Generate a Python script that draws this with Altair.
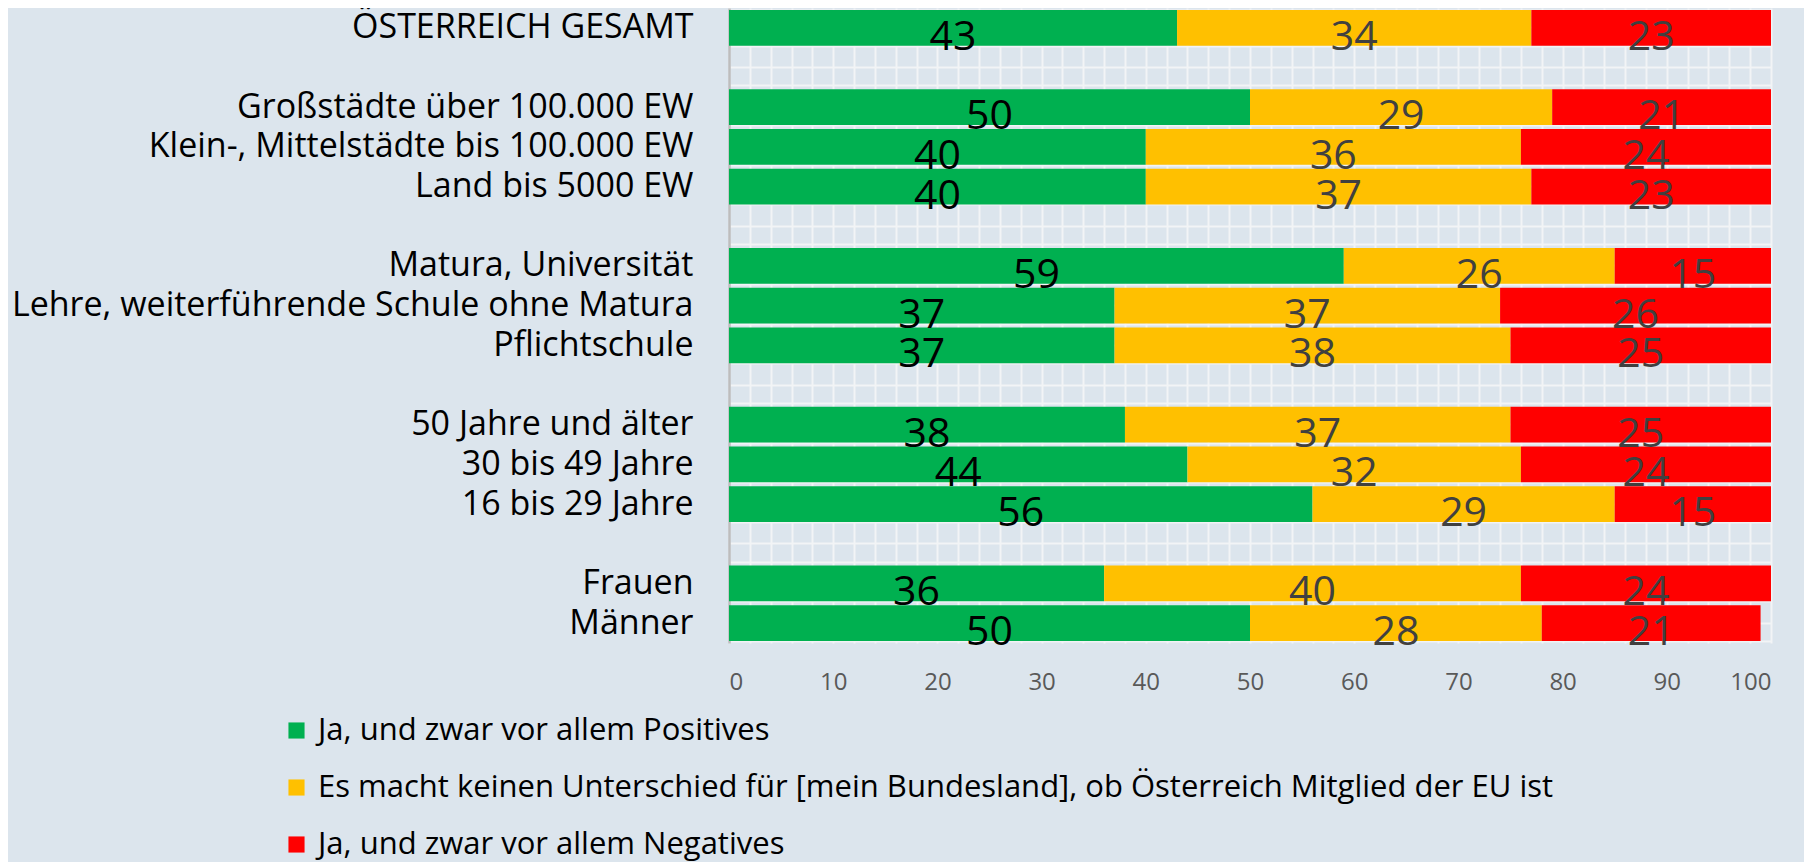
import altair as alt
import pandas as pd

categories = ["ÖSTERREICH GESAMT",
              "Großstädte über 100.000 EW",
              "Klein-, Mittelstädte bis 100.000 EW",
              "Land bis 5000 EW",
              "Matura, Universität",
              "Lehre, weiterführende Schule ohne Matura",
              "Pflichtschule",
              "50 Jahre und älter",
              "30 bis 49 Jahre",
              "16 bis 29 Jahre",
              "Frauen",
              "Männer"]
positive = [43, 50, 40, 40, 59, 37, 37, 38, 44, 56, 36, 50]
neutral = [34, 29, 36, 37, 26, 37, 38, 37, 32, 29, 40, 28]
negative = [23, 21, 24, 23, 15, 26, 25, 25, 24, 15, 24, 21]
series = ["Ja, und zwar vor allem Positives",
          "Es macht keinen Unterschied für [mein Bundesland], ob Österreich Mitglied der EU ist",
          "Ja, und zwar vor allem Negatives"]
colors = ["#00b050", "#ffc000", "#ff0000"]

# row order including empty spacer rows
row_order = [categories[0], " ",
             categories[1], categories[2], categories[3], "  ",
             categories[4], categories[5], categories[6], "   ",
             categories[7], categories[8], categories[9], "    ",
             categories[10], categories[11]]

rows = []
for i, c in enumerate(categories):
    for k, vals in enumerate([positive, neutral, negative]):
        rows.append({"cat": c, "series": series[k], "order": k, "value": vals[i]})
df = pd.DataFrame(rows)

FONT = "Open Sans"
GRID = "#f2f4f6"

yscale = alt.Scale(domain=row_order, paddingInner=0.1, paddingOuter=0.05)
xscale = alt.Scale(domain=[0, 100], nice=False)
xaxis = alt.Axis(values=list(range(0, 101, 2)),
                 labelExpr="datum.value % 10 == 0 ? datum.label : ''",
                 labelOverlap=False,
                 labelFont=FONT, labelFontSize=24, labelColor="#595959",
                 labelPadding=27, ticks=False, domain=False,
                 grid=True, gridColor=GRID, gridWidth=2)

base = alt.Chart(df)

midgrid = base.mark_bar(opacity=0).encode(
    y=alt.Y("cat:N", scale=yscale, sort=row_order, title=None,
            axis=alt.Axis(orient="right", labels=False, ticks=False, domain=False,
                          grid=True, gridColor=GRID, gridWidth=2)),
    x=alt.X("value:Q", stack="zero", scale=xscale, title=None, axis=xaxis),
)

bars = base.mark_bar().encode(
    y=alt.Y("cat:N", scale=yscale, sort=row_order, title=None,
            axis=alt.Axis(labelFont=FONT, labelFontSize=34, labelColor="#000000",
                          labelPadding=36, labelLimit=800, ticks=False,
                          domain=True, domainColor="#bdbdbd", domainWidth=2.5,
                          grid=True, gridColor=GRID, gridWidth=2,
                          tickBand="extent")),
    x=alt.X("value:Q", stack="zero", scale=xscale, title=None, axis=xaxis),
    color=alt.Color("series:N", scale=alt.Scale(domain=series, range=colors),
                    legend=alt.Legend(title=None, orient="none", legendX=-448, legendY=707,
                                      direction="vertical", symbolType="square",
                                      symbolSize=260, symbolStrokeWidth=0,
                                      labelFont=FONT, labelFontSize=31, labelColor="#000000",
                                      labelLimit=1300, rowPadding=25, symbolOffset=0,
                                      labelOffset=6)),
    order=alt.Order("order:Q")
)

labels = base.transform_stack(
    stack="value", groupby=["cat"], sort=[alt.SortField("order")], as_=["x0", "x1"]
).transform_calculate(
    mid="(datum.x0 + datum.x1) / 2"
).mark_text(font=FONT, fontSize=41, baseline="middle", align="center", dy=10).encode(
    y=alt.Y("cat:N", scale=yscale, sort=row_order, axis=None),
    x=alt.X("mid:Q", scale=xscale, title=None, axis=xaxis),
    text=alt.Text("value:Q"),
    color=alt.condition("datum.order == 0", alt.value("#000000"), alt.value("#404040"))
)

chart = alt.layer(midgrid, bars, labels).resolve_axis(y="independent").properties(
    width=1042, height=635,
    background="#dce5ed",
    padding={"left": 721, "top": 0, "right": 33, "bottom": 219},
    autosize=alt.AutoSizeParams(type="none"),
).configure_view(stroke=None)

chart.save("out.html", embed_options={"renderer": "svg", "actions": False})
